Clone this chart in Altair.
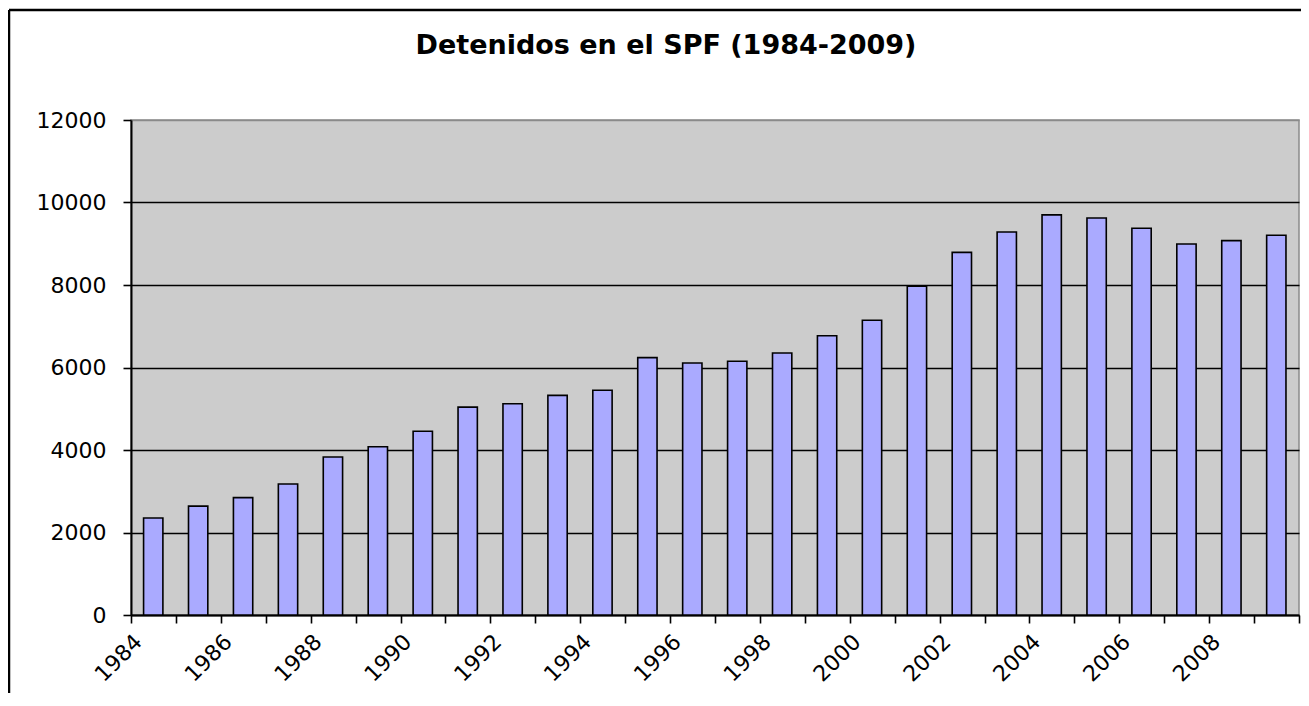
import altair as alt
import pandas as pd

# ---- data ----
years = list(range(1984, 2010))
detenidos = [2350, 2640, 2845, 3175, 3830, 4080, 4455, 5040, 5120, 5325,
             5450, 6240, 6110, 6150, 6350, 6770, 7145, 7970, 8790, 9285,
             9700, 9625, 9375, 8995, 9075, 9205]
x_tick_years = list(range(1984, 2011))
y_tick_values = [0, 2000, 4000, 6000, 8000, 10000, 12000]
title_text = "Detenidos en el SPF (1984-2009)"

df = pd.DataFrame({"anio": years, "detenidos": detenidos})
one = pd.DataFrame({"k": [0]})

W, H = 1168, 495
PAD = {"left": 123, "top": 112, "right": 2, "bottom": 78}

x_scale = alt.Scale(domain=[1984, 2010], nice=False, zero=False)
y_scale = alt.Scale(domain=[0, 12000], nice=False)

bars = (
    alt.Chart(df)
    .transform_calculate(x0="datum.anio + 0.28", x1="datum.anio + 0.71")
    .mark_bar(fill="#AAAAFF", stroke="black", strokeWidth=1.6)
    .encode(
        x=alt.X(
            "x0:Q",
            scale=x_scale,
            title=None,
            axis=alt.Axis(
                values=x_tick_years,
                format="d",
                labelExpr="(datum.value % 2 == 0 && datum.value <= 2008) ? datum.label : ''",
                labelAngle=315,
                labelAlign="right",
                labelBaseline="middle",
                labelPadding=15,
                labelOffset=7,
                tickSize=8,
                grid=False,
                labelOverlap=False,
                labelFlush=False,
            ),
        ),
        x2="x1:Q",
        y=alt.Y(
            "detenidos:Q",
            scale=y_scale,
            title=None,
            axis=alt.Axis(
                values=y_tick_values,
                format="d",
                tickSize=8,
                labelPadding=17,
                grid=True,
                gridColor=alt.condition("datum.value == 12000", alt.value("#8a8a8a"), alt.value("#000000")),
                labelFlush=False,
                labelOverlap=False,
            ),
        ),
        y2=alt.datum(0),
    )
)

border_left = alt.Chart(one).mark_rule(color="black", strokeWidth=2.5).encode(
    x=alt.value(-122), y=alt.value(-110), y2=alt.value(H + PAD["bottom"])
)
border_top = alt.Chart(one).mark_rule(color="black", strokeWidth=2.5).encode(
    x=alt.value(-122), x2=alt.value(W + PAD["right"]), y=alt.value(-110)
)
title = alt.Chart(one).mark_text(
    text=title_text,
    font="DejaVu Sans",
    fontSize=27,
    fontWeight="bold",
    color="black",
    align="center",
    baseline="alphabetic",
).encode(x=alt.value(535), y=alt.value(-66))

chart = (
    alt.layer(bars, border_left, border_top, title)
    .properties(
        width=W,
        height=H,
        autosize=alt.AutoSizeParams(type="none"),
        padding=PAD,
        background="white",
    )
    .configure_view(fill="#CCCCCC", stroke="#8a8a8a", strokeWidth=1.5)
    .configure_axis(
        domainColor="black",
        domainWidth=2,
        tickColor="black",
        tickWidth=1.6,
        gridWidth=1.4,
        labelFont="DejaVu Sans",
        labelFontSize=22,
        labelColor="black",
    )
)

chart.save("out.html", embed_options={"renderer": "svg", "actions": False})
